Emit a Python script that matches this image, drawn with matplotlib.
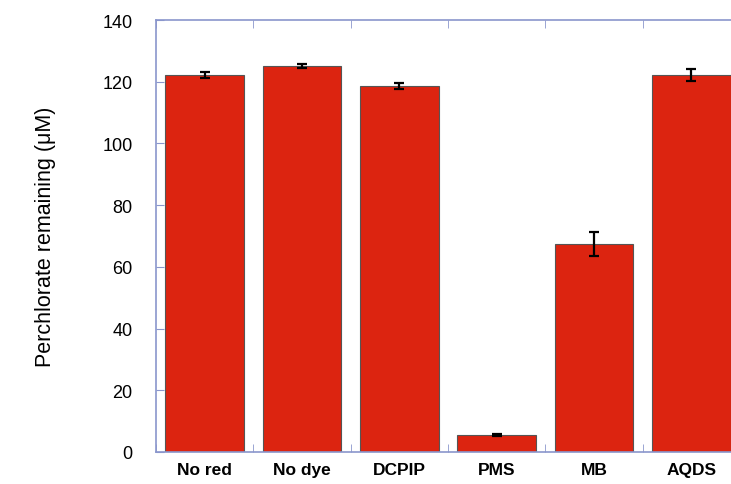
import numpy as np
import matplotlib.pyplot as plt

plt.rcParams['font.family'] = ['Liberation Sans', 'DejaVu Sans']

# data
categories = ['No red', 'No dye', 'DCPIP', 'PMS', 'MB', 'AQDS']
remaining = [122.2, 125.1, 118.5, 5.5, 67.4, 122.2]
errors = [1.1, 0.6, 1.0, 0.3, 3.8, 2.0]
y_ticks = [0, 20, 40, 60, 80, 100, 120, 140]

spine_col = '#8a96cc'
bar_col = '#dc2410'

fig = plt.figure(figsize=(7.31, 4.85), dpi=100)
# axes runs off the right edge, as in the cropped original
ax = fig.add_axes([156 / 731, 32 / 485, (740 - 156) / 731, (453 - 21) / 485])

x = np.arange(len(categories))
ax.bar(x, remaining, width=0.81, color=bar_col, edgecolor='#555555', linewidth=0.8, zorder=2)
ax.errorbar(x, remaining, yerr=errors, fmt='none', ecolor='black', elinewidth=1.6,
            capsize=3.5, capthick=1.6, zorder=3)

ax.set_xlim(-0.5, len(categories) - 0.5)
ax.set_ylim(0, 140)
ax.set_yticks(y_ticks)
ax.set_yticklabels([str(t) for t in y_ticks], fontsize=13)

# category labels centred, ticks at boundaries
ax.set_xticks(x)
ax.set_xticklabels(categories, fontsize=12.5, fontweight='bold')
ax.tick_params(axis='x', which='major', length=0, pad=7)
ax.set_xticks(np.arange(len(categories) + 1) - 0.5, minor=True)
ax.tick_params(axis='x', which='minor', direction='in', length=6, color=spine_col,
               top=True, bottom=True)
ax.tick_params(axis='y', direction='in', length=6, color=spine_col, pad=17)

for s in ['left', 'bottom', 'top']:
    ax.spines[s].set_color(spine_col)
    ax.spines[s].set_linewidth(1.2)
ax.spines['right'].set_visible(False)

ax.set_ylabel('Perchlorate remaining (\u03bcM)', fontsize=15.5, labelpad=33)

fig.savefig('out.png', dpi=100)
